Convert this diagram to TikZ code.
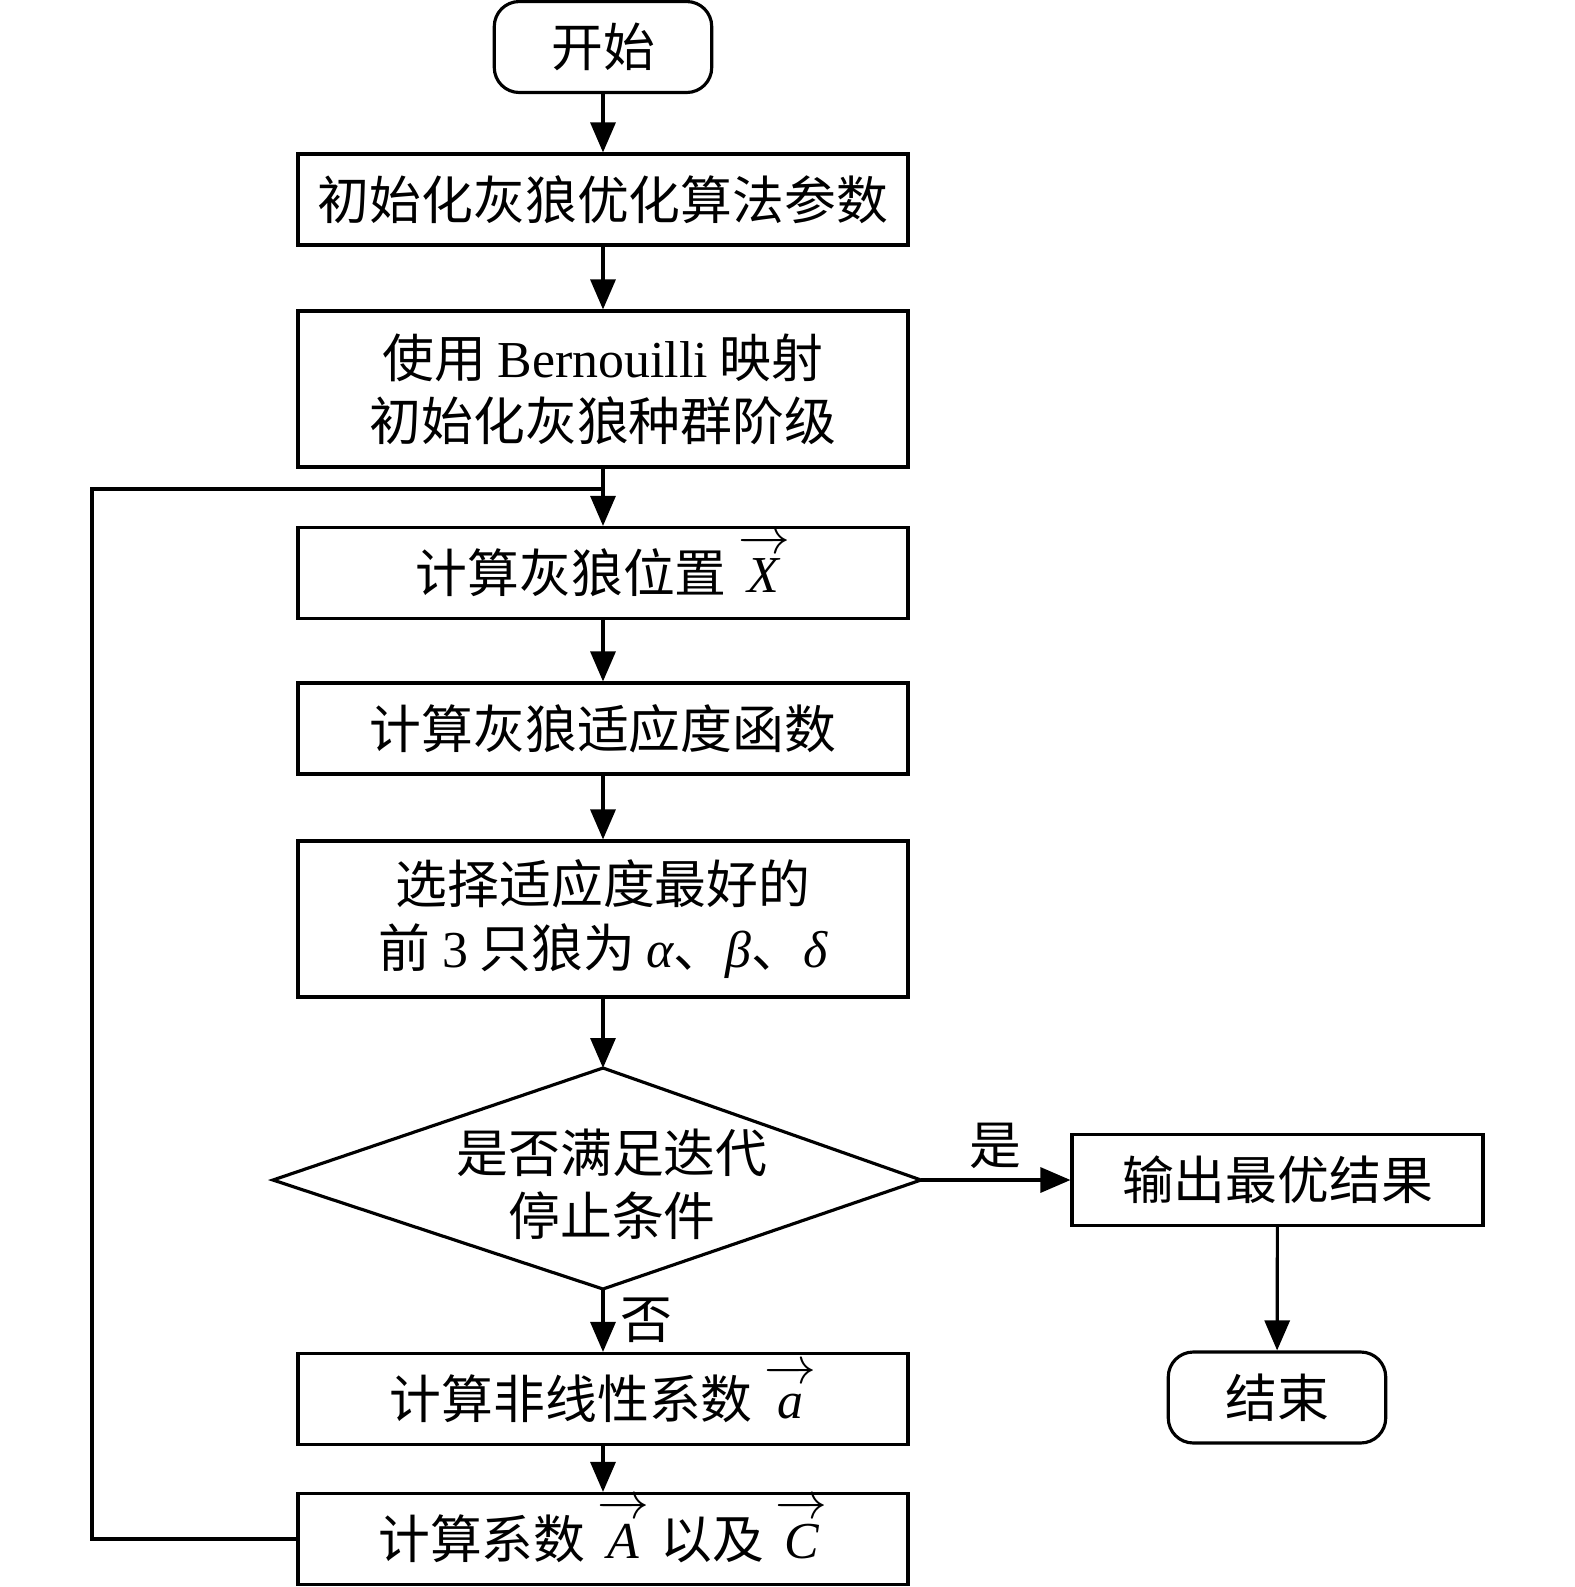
\RequirePackage{fix-cm}
\documentclass[tikz,border=0pt]{standalone}
\usepackage{fontspec}
\setmainfont{Liberation Serif}
\newfontfamily\cjk{Noto Sans CJK SC}
\usepackage{tikz}
\usetikzlibrary{arrows.meta}

\newcommand{\itl}[1]{{\rmfamily\itshape #1}}
\newcommand{\vecl}[2][0.8em]{\smash{$\overrightarrow{\hbox{\rmfamily\itshape #2\/\vrule height #1 width 0pt}}$}}

\begin{document}
\begin{tikzpicture}[x=0.02cm,y=-0.02cm,line width=1.8pt,
	>={Triangle[length=0.6cm,width=0.5cm]},
	box/.style={draw,rectangle,minimum width=12.2cm,minimum height=1.82cm,
		align=center,inner sep=0pt,font=\cjk\fontsize{29.5}{36}\selectfont},
	term/.style={box,rounded corners=0.5cm,minimum width=4.35cm},
	lbl/.style={font=\cjk\fontsize{29.5}{36}\selectfont}]
	\useasboundingbox (0,0) rectangle (1575,1587);
	% main column
	\node[term] (start) at (603,47) {开始};
	\node[box] (init) at (603,199.5) {初始化灰狼优化算法参数};
	\node[box,minimum height=3.12cm] (chaos) at (603,389)
		{使用 {\rmfamily Bernouilli} 映射\\初始化灰狼种群阶级};
	\node[box] (pos) at (603,573) {计算灰狼位置 \vecl{X}};
	\node[box] (fit) at (603,728.5) {计算灰狼适应度函数};
	\node[box,minimum height=3.12cm] (sel) at (603,919)
		{选择适应度最好的\\前 {\rmfamily 3} 只狼为 \itl{α}、\itl{β}、\itl{δ}};
	% decision
	\coordinate (dtop) at (603,1068);
	\coordinate (dright) at (921,1180);
	\coordinate (dbot) at (603,1289);
	\coordinate (dleft) at (273,1180);
	\draw (dtop)--(dright)--(dbot)--(dleft)--cycle;
	\node[lbl,align=center] (cond) at (612,1184) {是否满足迭代\\停止条件};
	\node[box] (coef) at (603,1399) {计算非线性系数 \vecl[0.72em]{a}};
	\node[box] (calc) at (603,1539) {计算系数 \vecl{A} 以及 \vecl{C}};
	% right column
	\node[box,minimum width=8.22cm] (out) at (1277.5,1180) {输出最优结果};
	\node[term] (stop) at (1277,1397.5) {结束};
	% arrows
	\draw[->] (start)--(init);
	\draw[->] (init)--(chaos);
	\draw[->] (chaos)--(pos);
	\draw[->] (pos)--(fit);
	\draw[->] (fit)--(sel);
	\draw[->] (sel)--(dtop);
	\draw[->] (dright)--(out) node[lbl,midway,above=2pt] (yes) {是};
	\draw[->] (dbot)--(coef) node[lbl,midway,right=6pt] (no) {否};
	\draw[->] (coef)--(calc);
	\draw[->] (out)--(stop);
	% loop back
	\coordinate (join) at (603,489);
	\draw (calc.west) -| (92,489) -- (join);
\end{tikzpicture}
\end{document}
